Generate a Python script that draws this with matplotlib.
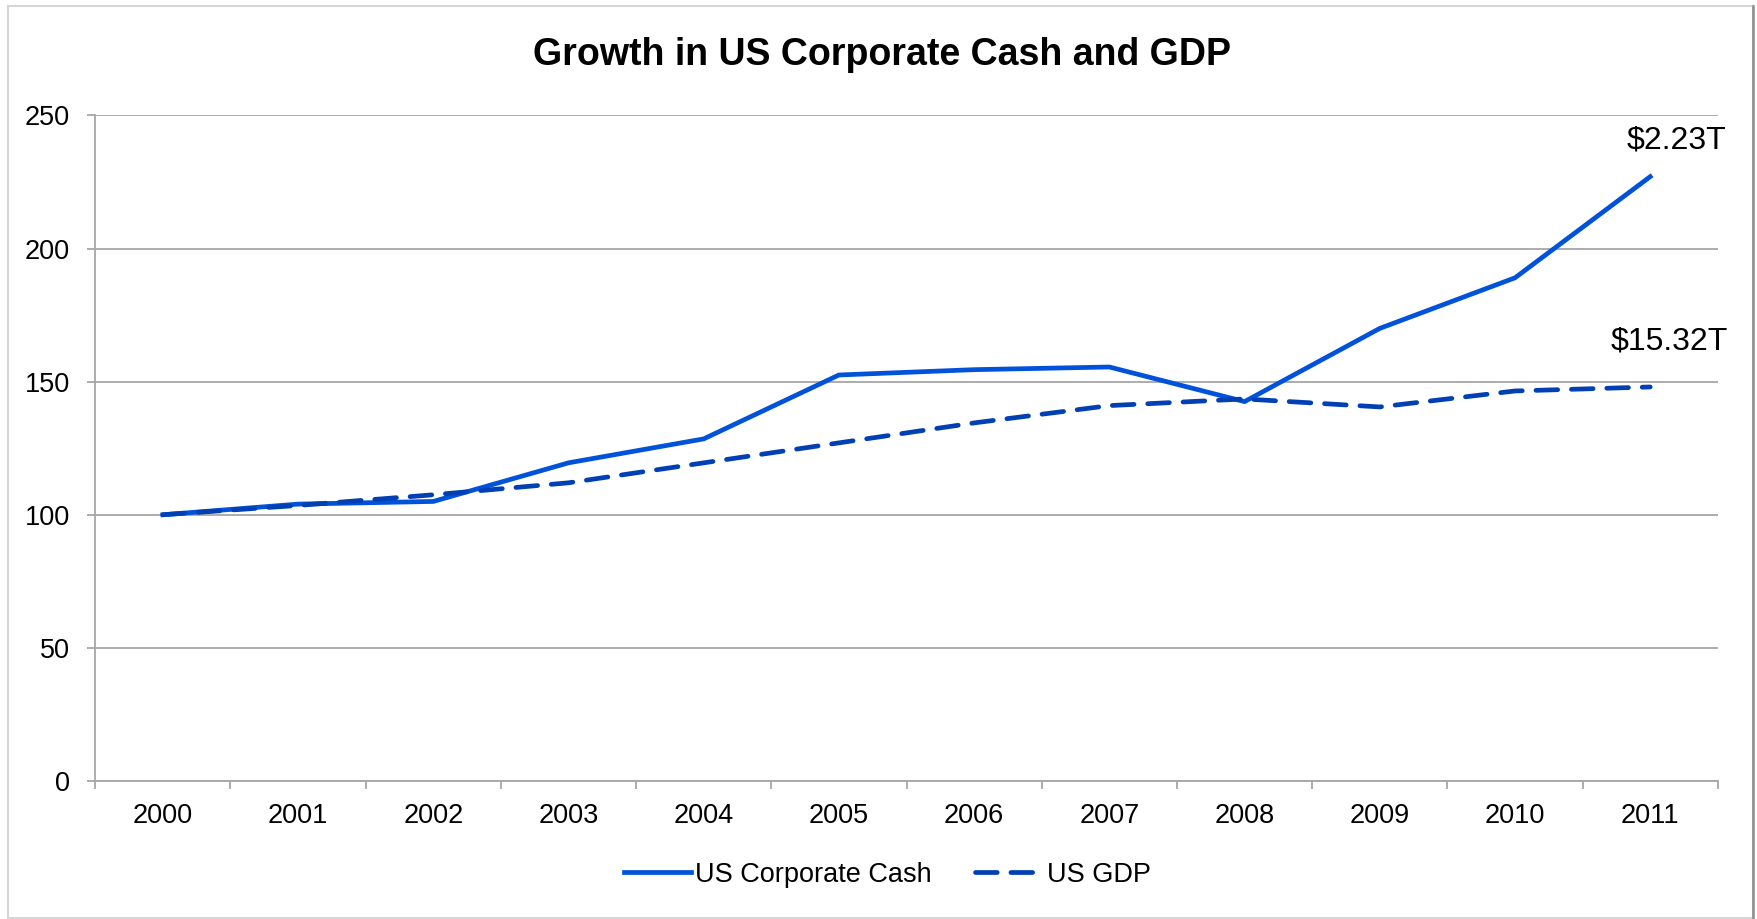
import matplotlib
matplotlib.use("Agg")
import matplotlib.pyplot as plt
from matplotlib.patches import Rectangle
from matplotlib.lines import Line2D

plt.rcParams["font.family"] = ["Liberation Sans", "DejaVu Sans"]

# index values, 2000 = 100
years = ["2000", "2001", "2002", "2003", "2004", "2005",
         "2006", "2007", "2008", "2009", "2010", "2011"]
corp_cash = [100, 104, 105, 119.5, 128.5, 152.5, 154.5, 155.5, 142.5, 170, 189, 227]
us_gdp = [100, 103.5, 107.5, 112, 119.5, 127, 134.5, 141, 143.5, 140.5, 146.5, 148]
end_labels = ["$2.23T", "$15.32T"]
y_ticks = [0, 50, 100, 150, 200, 250]

cash_color = "#0052DB"
gdp_color = "#0040B4"
grid_color = "#A6A6A6"

fig = plt.figure(figsize=(17.57, 9.19), dpi=100)
ax = fig.add_axes([0.0542, 0.1502, 0.9235, 0.7242])

x = list(range(len(years)))
ax.plot(x, corp_cash, color=cash_color, lw=3.4, solid_joinstyle="miter",
        label="US Corporate Cash")
ax.plot(x, us_gdp, color=gdp_color, lw=3.4, dashes=(4.6, 2.9),
        dash_capstyle="round", label="US GDP")

ax.set_xlim(-0.5, len(years) - 0.5)
ax.set_ylim(0, 250)

# gridlines and axes
ax.set_yticks(y_ticks)
ax.yaxis.grid(True, color=grid_color, lw=1.3)
ax.set_axisbelow(True)
for side in ["top", "right"]:
    ax.spines[side].set_visible(False)
for side in ["left", "bottom"]:
    ax.spines[side].set_color(grid_color)
    ax.spines[side].set_linewidth(1.3)

ax.set_xticks(x)
ax.set_xticklabels(years)
ax.set_xticks([i - 0.5 for i in range(len(years) + 1)], minor=True)
ax.tick_params(axis="x", which="major", length=0, pad=16, labelsize=19.5)
ax.tick_params(axis="x", which="minor", length=6, width=1.3, color=grid_color)
ax.tick_params(axis="y", length=6, width=1.3, color=grid_color, pad=12, labelsize=19.5)

# values at the latest year
ax.annotate(end_labels[0], xy=(x[-1], corp_cash[-1]), xytext=(55, 26),
            textcoords="offset points", ha="right", va="center", fontsize=23)
ax.annotate(end_labels[1], xy=(x[-1], us_gdp[-1]), xytext=(56, 33),
            textcoords="offset points", ha="right", va="center", fontsize=23)

fig.text(0.502, 0.940, "Growth in US Corporate Cash and GDP",
         ha="center", va="center", fontsize=27, fontweight="bold")

fig.legend(loc="center", bbox_to_anchor=(0.505, 0.048), ncol=2, frameon=False,
           fontsize=19.5, handlelength=2.5, handletextpad=0.15, columnspacing=1.6)

# chart border
fig.patches.append(Rectangle((8 / 1757, 1 / 919), 1745 / 1757, 912 / 919,
                             transform=fig.transFigure, fill=False,
                             edgecolor="#D6D6D6", lw=1.5))
fig.lines.append(Line2D([1753 / 1757, 1753 / 1757], [1 / 919, 913 / 919],
                        transform=fig.transFigure, color="#8C8C8C", lw=1.8))

fig.savefig("out.png", dpi=100, facecolor="white")
